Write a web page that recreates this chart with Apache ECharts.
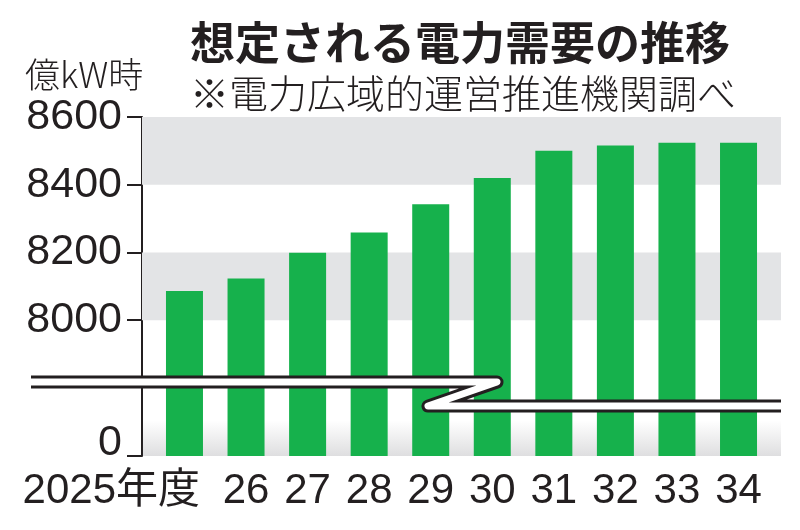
<!DOCTYPE html>
<html>
<head>
<meta charset="utf-8">
<script src="https://cdn.jsdelivr.net/npm/echarts@6/dist/echarts.min.js"></script>
<style>
html,body{margin:0;padding:0;background:#fff;}
#c{width:800px;height:530px;}
</style>
</head>
<body>
<div id="c"></div>
<script>
// ---- data ----
const categories = ['2025年度', '26', '27', '28', '29', '30', '31', '32', '33', '34'];
const demand = [8086, 8123, 8199, 8259, 8342, 8420, 8500, 8516, 8524, 8524];
const yTickValues = [0, 8000, 8200, 8400, 8600];
const bandRanges = [[8400, 8600], [8000, 8200]];
const BREAK_START = 183;
const BREAK_END = 7782;

const TXT = '#231f20';
const XFONT = '"Liberation Sans", "Noto Sans CJK JP", sans-serif';
const YFONT = '"Liberation Sans", sans-serif';
const JP = '"Noto Sans CJK JP", sans-serif';

const chart = echarts.init(document.getElementById('c'), null, {renderer: 'canvas'});

const option = {
  animation: false,
  backgroundColor: '#fff',
  title: [
    {text: '想定される電力需要の推移', left: 190, top: 20, padding: 0,
     textStyle: {fontFamily: JP, fontSize: 45, fontWeight: 'bold', lineHeight: 46, color: TXT}},
    {text: '※電力広域的運営推進機関調べ', left: 190, top: 73, padding: 0,
     textStyle: {fontFamily: JP, fontSize: 39, fontWeight: 300, lineHeight: 40, color: TXT}},
    {text: '億kW時', left: 25, top: 57, padding: 0,
     textStyle: {fontFamily: JP, fontSize: 35, fontWeight: 300, lineHeight: 36, color: TXT}}
  ],
  grid: {left: 142, right: 19, top: 117, bottom: 74, containLabel: false},
  xAxis: [
    {
      type: 'value', min: -0.69, max: 9.69,
      axisLine: {show: false}, axisTick: {show: false}, splitLine: {show: false},
      axisLabel: {
        customValues: categories.slice(1).map((_, i) => i + 1),
        margin: 14,
        fontFamily: XFONT, fontSize: 42, lineHeight: 42, color: TXT,
        formatter: function (v) { return categories[Math.round(v)]; }
      }
    },
    {
      // first category label, right-aligned to the first bar's right edge
      type: 'value', min: -0.69, max: 9.69, position: 'bottom',
      axisLine: {show: false}, axisTick: {show: false}, splitLine: {show: false},
      axisLabel: {
        customValues: [0.252],
        margin: 14, align: 'right',
        fontFamily: XFONT, fontSize: 42, lineHeight: 42, color: TXT,
        formatter: function () { return categories[0]; }
      }
    }
  ],
  yAxis: {
    type: 'value', min: 0, max: 8600,
    breaks: [{start: BREAK_START, end: BREAK_END, gap: 0}],
    breakArea: {show: false},
    axisLine: {show: true, onZero: false, lineStyle: {color: TXT, width: 2}},
    axisTick: {show: true, length: 15, customValues: yTickValues, lineStyle: {color: TXT, width: 2}},
    splitLine: {show: false},
    splitArea: {show: false},
    axisLabel: {
      customValues: yTickValues,
      margin: 20,
      fontFamily: YFONT, fontSize: 43, color: TXT,
      formatter: function (v) { return v === 0 ? '{z|0}' : String(v); },
      rich: {z: {fontFamily: YFONT, fontSize: 43, color: TXT, padding: [0, 0, 26, 0]}}
    }
  },
  series: [
    {
      type: 'bar',
      data: demand.map((v, i) => [i, v]),
      barWidth: 37,
      itemStyle: {color: '#16b14c'},
      z: 2,
      markArea: {
        silent: true,
        itemStyle: {color: '#e3e4e6'},
        data: bandRanges.map(r => [{yAxis: r[0]}, {yAxis: r[1]}])
      }
    },
    {
      type: 'scatter',
      data: [],
      z: 5,
      markArea: {
        silent: true,
        itemStyle: {
          color: new echarts.graphic.LinearGradient(0, 0, 0, 1, [
            {offset: 0, color: 'rgba(60,60,70,0)'},
            {offset: 1, color: 'rgba(60,60,70,0.17)'}
          ])
        },
        data: [[{yAxis: 0}, {yAxis: 105}]]
      }
    }
  ]
};
chart.setOption(option);

// axis-break decoration (Z-shaped band), positioned on the break
const yb = chart.convertToPixel({yAxisIndex: 0}, BREAK_START);
const pts = [[31, yb - 12], [497, yb - 12], [428, yb + 12], [781, yb + 12]];
chart.setOption({
  graphic: [
    {type: 'polyline', z: 100, silent: true, shape: {points: pts},
     style: {stroke: TXT, lineWidth: 13, fill: null, lineJoin: 'round', lineCap: 'butt'}},
    {type: 'polyline', z: 101, silent: true, shape: {points: pts},
     style: {stroke: '#ffffff', lineWidth: 7, fill: null, lineJoin: 'round', lineCap: 'butt'}}
  ]
});
</script>
</body>
</html>
